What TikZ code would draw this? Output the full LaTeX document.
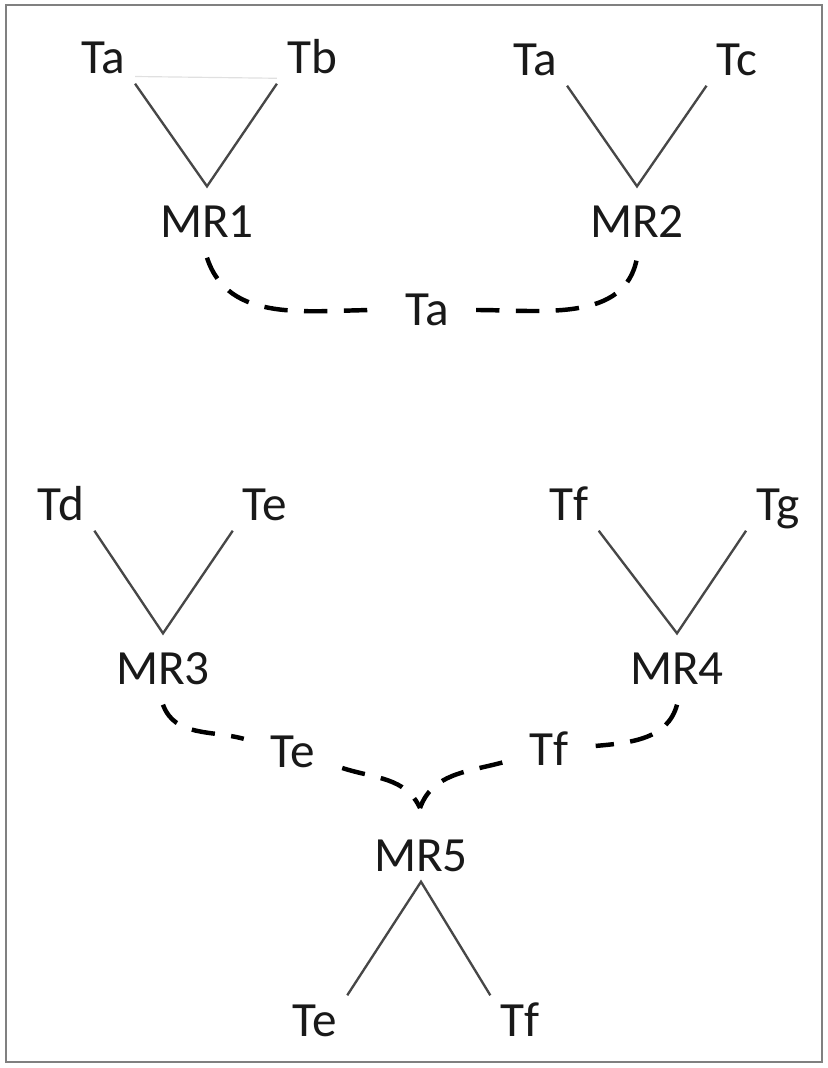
\documentclass[tikz,border=0pt]{standalone}
\usepackage{fontspec}
\setmainfont{Carlito}

\begin{document}
\begin{tikzpicture}[x=0.03cm, y=0.03cm, every node/.style={font=\fontsize{42}{48}\selectfont, text=black!90, text height=26.5pt, text depth=0pt, inner sep=8.5pt}, mr/.style={inner ysep=17pt}, lbl/.style={inner xsep=23pt, inner ysep=4pt}, edge/.style={draw=black!72, line width=2pt}, link/.style={draw=black, line width=3.8pt, dash pattern=on 20pt off 14pt}]
	\useasboundingbox (0,0) rectangle (827,-1068);
	\draw[black!50, line width=2.5pt] (6,-5) rectangle (822,-1062);
	% first pair
	\node (ta1) at (103,-58) {Ta};
	\node (tb1) at (312,-58) {Tb};
	\node[mr] (mr1) at (207,-222) {MR1};
	\node (ta2) at (535,-60) {Ta};
	\node (tc2) at (737,-60) {Tc};
	\node[mr] (mr2) at (637,-222) {MR2};
	\node[lbl] (ta3) at (427,-310) {Ta};
	\draw[draw=black!12, line width=1pt] (ta1.-30) -- (tb1.-150);
	\draw[edge] (ta1.south east) -- (mr1.north) -- (tb1.south west);
	\draw[edge] (ta2.south east) -- (mr2.north) -- (tc2.south west);
	\draw[link] (mr1.south) to[out=-72, in=180] (ta3);
	\draw[link] (ta3) to[out=0, in=-100] (mr2.south);
	% second pair
	\node (td) at (61,-505) {Td};
	\node (te1) at (265,-505) {Te};
	\node[mr] (mr3) at (163,-669) {MR3};
	\node (tf1) at (569,-505) {Tf};
	\node (tg) at (778,-505) {Tg};
	\node[mr] (mr4) at (677,-669) {MR4};
	\node[lbl] (te2) at (293,-752) {Te};
	\node[lbl] (tf2) at (549,-750) {Tf};
	\node (mr5) at (421,-856) {MR5};
	\coordinate (mj) at (420,-808);
	\node (te3) at (315,-1021) {Te};
	\node (tf3) at (520,-1021) {Tf};
	\draw[edge] (td.south east) -- (mr3.north) -- (te1.south west);
	\draw[edge] (tf1.south east) -- (mr4.north) -- (tg.south west);
	\draw[link] (mr3.south) to[out=-70, in=165] (te2);
	\draw[link] (te2) to[out=-18, in=115] (mj);
	\draw[link] (mr4.south) to[out=-105, in=5] (tf2);
	\draw[link] (tf2) to[out=195, in=70] (mj);
	\draw[edge] (te3.north east) -- (mr5.south) -- (tf3.north west);
\end{tikzpicture}
\end{document}
